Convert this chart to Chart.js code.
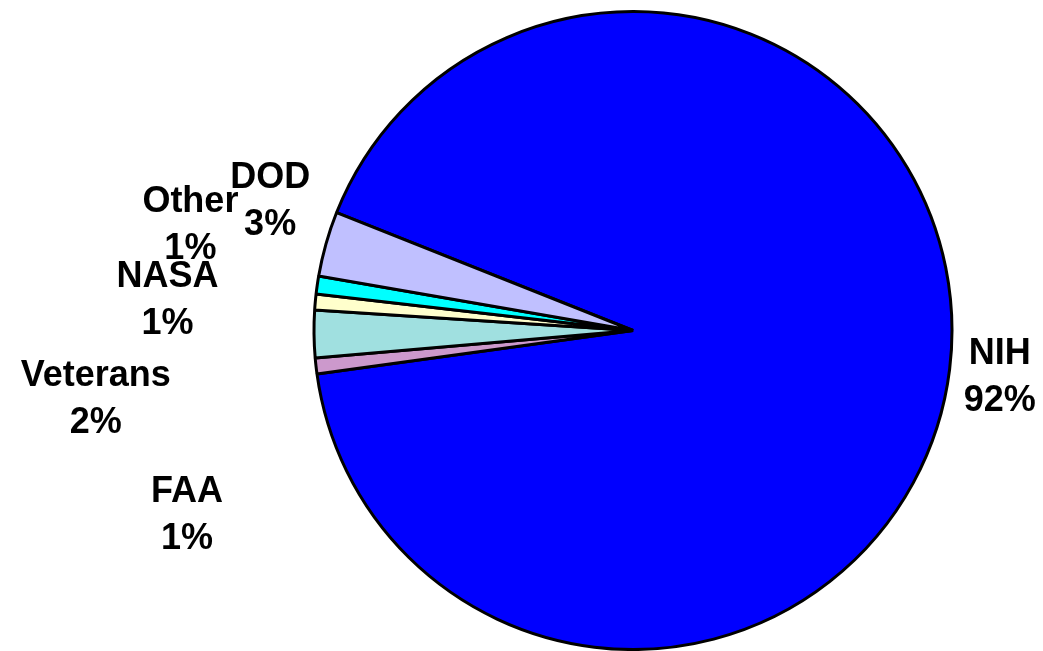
<!DOCTYPE html>
<html>
<head>
<meta charset="utf-8">
<script src="https://cdn.jsdelivr.net/npm/chart.js@4/dist/chart.umd.min.js"></script>
<style>
  html, body { margin: 0; padding: 0; background: #fff; }
  #wrap { width: 1043px; height: 651px; position: relative; }
</style>
</head>
<body>
<div id="wrap"><canvas id="chart"></canvas></div>
<script>
// agencies, in drawing order (clockwise from the NIH edge)
const agencies = ['NIH', 'FAA', 'Veterans', 'NASA', 'Other', 'DOD'];
const shares = [91.8, 0.8, 2.4, 0.8, 0.9, 3.3];
const sliceColors = ['#0000FF', '#CC99CC', '#A0E0E0', '#FFFFCC', '#00FFFF', '#C0C0FF'];

// label anchor (first line baseline) relative to the pie centre, in radii
const labelOffsets = [
  [1.15, 0.106],
  [-1.398, 0.537],
  [-1.684, 0.174],
  [-1.459, -0.137],
  [-1.3875, -0.373],
  [-1.1375, -0.446]
];

const labelPlugin = {
  id: 'sliceLabels',
  afterDatasetsDraw(chart) {
    const ctx = chart.ctx;
    const meta = chart.getDatasetMeta(0);
    const total = shares.reduce((a, b) => a + b, 0);
    ctx.save();
    ctx.fillStyle = '#000';
    ctx.font = 'bold 36px "Liberation Sans", Arial, sans-serif';
    ctx.textAlign = 'center';
    ctx.textBaseline = 'alphabetic';
    meta.data.forEach((arc, i) => {
      const r = arc.outerRadius;
      const x = arc.x + labelOffsets[i][0] * r;
      const y = arc.y + labelOffsets[i][1] * r;
      ctx.fillText(agencies[i], x, y);
      ctx.fillText(Math.round(shares[i] / total * 100) + '%', x, y + 47);
    });
    ctx.restore();
  }
};

new Chart(document.getElementById('chart'), {
  type: 'pie',
  data: {
    labels: agencies,
    datasets: [{
      data: shares,
      backgroundColor: sliceColors,
      borderColor: '#000',
      borderWidth: 3,
      hoverBorderWidth: 3,
      hoverOffset: 0
    }]
  },
  options: {
    responsive: true,
    maintainAspectRatio: false,
    animation: false,
    rotation: 291.7,
    layout: { padding: { left: 312, right: 89, top: 10, bottom: 0 } },
    plugins: {
      legend: { display: false },
      tooltip: { enabled: false }
    }
  },
  plugins: [labelPlugin]
});
</script>
</body>
</html>
